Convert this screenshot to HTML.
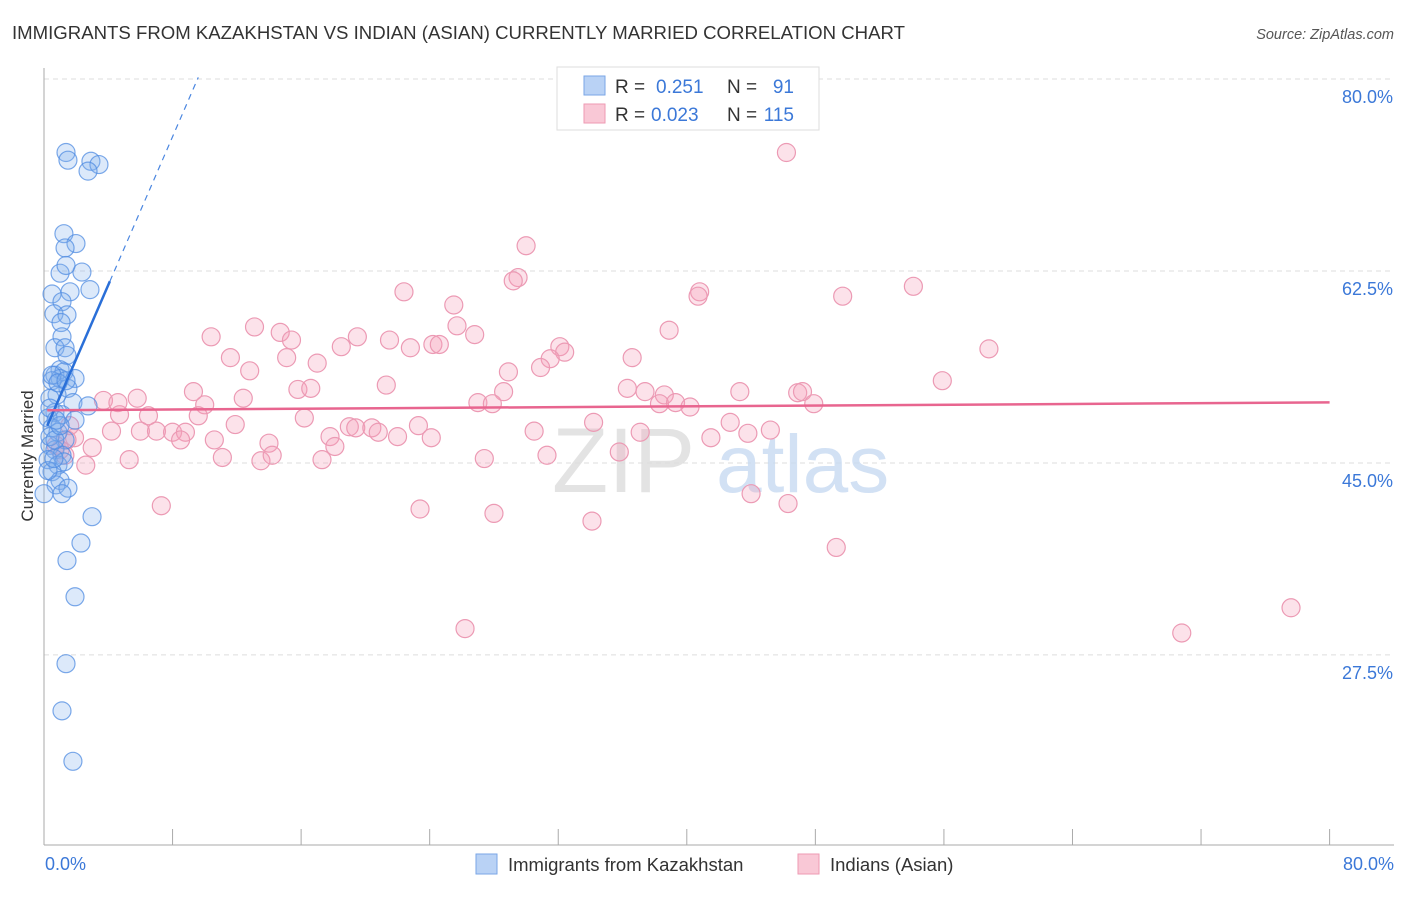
<!DOCTYPE html>
<html><head><meta charset="utf-8"><style>
body{margin:0;background:#fff;font-family:"Liberation Sans",sans-serif;}
svg text{font-family:"Liberation Sans",sans-serif;}
</style></head><body>
<svg id="chart" width="1406" height="892" xmlns="http://www.w3.org/2000/svg">
<text x="12" y="39" font-size="18.6" fill="#333">IMMIGRANTS FROM KAZAKHSTAN VS INDIAN (ASIAN) CURRENTLY MARRIED CORRELATION CHART</text>
<text x="1394" y="39" font-size="14.5" fill="#555" text-anchor="end" font-style="italic">Source: ZipAtlas.com</text>
<g id="grid"></g>
<text x="552" y="492" font-size="92" fill="#ddd" font-family="Liberation Serif" opacity="0.8">ZIP</text>
<text x="716" y="492" font-size="82" fill="#c8daf2" opacity="0.8">atlas</text>
<g id="axes"></g>
<g id="pts"></g>
<g id="trend"></g>
<text transform="translate(33,456) rotate(-90)" font-size="17" fill="#333" text-anchor="middle">Currently Married</text>
<g>
<rect x="557" y="67" width="262" height="63" fill="#fff" stroke="#ddd"/>
<rect x="584" y="76" width="21" height="19" fill="#b9d2f5" stroke="#7aa6e6"/>
<rect x="584" y="104" width="21" height="19" fill="#f9c8d6" stroke="#ee9ab3"/>
<text x="615" y="93" font-size="19" fill="#333">R =</text><text x="656" y="93" font-size="19" fill="#3b78d8">0.251</text>
<text x="727" y="93" font-size="19" fill="#333">N =</text><text x="794" y="93" font-size="19" fill="#3b78d8" text-anchor="end">91</text>
<text x="615" y="121" font-size="19" fill="#333">R =</text><text x="651" y="121" font-size="19" fill="#3b78d8">0.023</text>
<text x="727" y="121" font-size="19" fill="#333">N =</text><text x="794" y="121" font-size="19" fill="#3b78d8" text-anchor="end">115</text>
</g>
<g>
<rect x="476" y="854" width="21" height="20" fill="#b9d2f5" stroke="#7aa6e6"/>
<text x="508" y="871" font-size="18.5" fill="#333">Immigrants from Kazakhstan</text>
<rect x="798" y="854" width="21" height="20" fill="#f9c8d6" stroke="#ee9ab3"/>
<text x="830" y="871" font-size="18.5" fill="#333">Indians (Asian)</text>
</g>
</svg>
<script>
const yTicks=[80,62.5,45,27.5];
const yTickLabels=["80.0%","62.5%","45.0%","27.5%"];
const xTickVals=[0,8,16,24,32,40,48,56,64,72,80];
const blueX=[1.37,1.49,2.92,3.42,2.74,1.24,1.99,1.31,2.36,1.0,1.37,2.86,0.5,1.62,1.12,0.62,1.43,1.06,1.12,0.68,1.31,1.43,1.0,0.68,1.24,1.0,0.5,1.93,1.49,0.81,0.37,1.8,2.74,0.68,1.12,0.25,1.93,0.5,0.87,1.31,0.37,0.68,1.12,0.25,0.87,1.24,0.5,1.0,0.75,1.49,1.12,0,2.99,2.3,1.43,1.93,1.37,1.12,1.8,0.37,0.68,1.0,0.25,0.62,0.5,0.87,1.37,0.37,0.75];
const blueY=[73.3,72.6,72.5,72.2,71.6,65.9,65.0,64.6,62.4,62.3,63.0,60.8,60.4,60.6,59.7,58.6,58.5,57.8,56.5,55.5,55.5,54.8,53.5,53.0,53.3,52.7,52.5,52.7,51.8,51.2,50.9,50.5,50.2,49.6,49.4,49.1,48.9,48.2,47.8,47.1,46.6,46.2,45.7,45.3,44.8,45.1,44.2,43.4,43.0,42.7,42.2,42.2,40.1,37.7,36.1,32.8,26.7,22.4,17.8,47.4,47.1,48.4,44.3,45.4,53.0,52.3,52.5,50.0,48.9];
const pinkX=[46.2,30.0,29.5,29.2,22.4,40.8,40.7,49.7,54.1,25.5,25.7,13.1,14.7,10.4,15.4,19.5,21.5,26.8,38.9,18.5,22.8,24.2,24.6,32.1,32.4,11.6,15.1,17.0,36.6,31.5,30.9,12.8,28.9,58.8,55.9,15.8,16.6,21.3,28.6,9.3,36.3,37.4,38.6,43.3,46.9,47.2,3.7,4.6,5.8,10.0,12.4,27.0,27.9,38.3,39.3,40.2,47.9,4.7,6.5,9.6,16.2,11.9,19.0,19.4,20.4,20.8,22.0,23.3,34.2,42.7,4.2,6.0,7.0,8.0,8.8,8.5,10.6,14.0,17.8,18.1,24.1,30.5,37.1,43.8,45.2,41.5,3.0,1.9,1.6,5.3,11.1,13.5,14.2,17.3,27.4,31.3,35.8,2.6,7.3,23.4,28.0,34.1,44.0,46.3,49.3,26.2,70.8,77.6,1.3,0.75,1.0,1.43];
const pinkY=[73.3,64.8,61.9,61.6,60.6,60.6,60.2,60.2,61.1,59.4,57.5,57.4,56.9,56.5,56.2,56.5,56.2,56.7,57.1,55.6,55.5,55.8,55.8,55.6,55.1,54.6,54.6,54.1,54.6,54.5,53.7,53.4,53.3,55.4,52.5,51.7,51.8,52.1,51.5,51.5,51.8,51.5,51.2,51.5,51.4,51.5,50.7,50.5,50.9,50.3,50.9,50.5,50.4,50.4,50.5,50.1,50.4,49.4,49.3,49.3,49.1,48.5,48.3,48.2,48.2,47.8,47.4,48.4,48.7,48.7,47.9,47.9,47.9,47.8,47.8,47.1,47.1,46.8,47.4,46.5,47.3,47.9,47.8,47.7,48.0,47.3,46.4,47.3,48.4,45.3,45.5,45.2,45.7,45.3,45.4,45.7,46.0,44.8,41.1,40.8,40.4,39.7,42.2,41.3,37.3,29.9,29.5,31.8,45.7,46.6,46.2,47.1];
const blueTrend=[47.7,3.38];
const pinkTrend=[49.8,0.009];

const NS="http://www.w3.org/2000/svg";
const X=v=>44+v*16.07;
const Y=v=>79+(80-v)*10.97;
function mk(tag,attrs,parent){const e=document.createElementNS(NS,tag);for(const k in attrs)e.setAttribute(k,attrs[k]);parent.appendChild(e);return e;}
const grid=document.getElementById('grid'),axes=document.getElementById('axes'),pts=document.getElementById('pts'),trend=document.getElementById('trend');
yTicks.forEach((t,i)=>{
 const l=mk('line',{x1:44,x2:1394,y1:Y(t),y2:Y(t),stroke:'#ddd','stroke-dasharray':'5,4'},grid);
 
 
 const tx=mk('text',{x:1393,y:Y(t)+24,'font-size':18,fill:'#3b78d8','text-anchor':'end'},axes);
 tx.textContent=yTickLabels[i];
 
 
});
const ax=mk('line',{x1:44,x2:44,y1:68,y2:845,stroke:'#aaa'},axes);


const bx=mk('line',{x1:44,x2:1394,y1:845,y2:845,stroke:'#aaa'},axes);


xTickVals.forEach(v=>{
 const t=mk('line',{x1:X(v),x2:X(v),y1:829,y2:845,stroke:'#aaa'},axes);
 
 
});
const xl0=mk('text',{x:45,y:870,'font-size':18,fill:'#3b78d8'},axes);xl0.textContent='0.0%';


const xl1=mk('text',{x:1394,y:870,'font-size':18,fill:'#3b78d8','text-anchor':'end'},axes);xl1.textContent='80.0%';


pinkX.forEach((v,i)=>{
 const c=mk('circle',{cx:X(v),cy:Y(pinkY[i]),r:9,fill:'rgba(244,160,186,0.3)',stroke:'#ec9ab4','stroke-width':1.2},pts);
 
 
});
blueX.forEach((v,i)=>{
 const c=mk('circle',{cx:X(v),cy:Y(blueY[i]),r:9,fill:'rgba(130,175,238,0.28)',stroke:'rgba(80,140,225,0.75)','stroke-width':1.2},pts);
 
 
});
const bf=v=>blueTrend[0]+blueTrend[1]*v, pf=v=>pinkTrend[0]+pinkTrend[1]*v;
const b1=mk('line',{x1:X(0.2),y1:Y(bf(0.2)),x2:X(4.1),y2:Y(bf(4.1)),stroke:'#2a6fd8','stroke-width':2.5},trend);


const b2=mk('line',{x1:X(4.1),y1:Y(bf(4.1)),x2:X(9.6),y2:Y(bf(9.6)),stroke:'#4a86e0','stroke-width':1.2,'stroke-dasharray':'6,5'},trend);


const p1=mk('line',{x1:X(0.2),y1:Y(pf(0.2)),x2:X(80),y2:Y(pf(80)),stroke:'#e8658f','stroke-width':2.5},trend);


</script>
</body></html>
